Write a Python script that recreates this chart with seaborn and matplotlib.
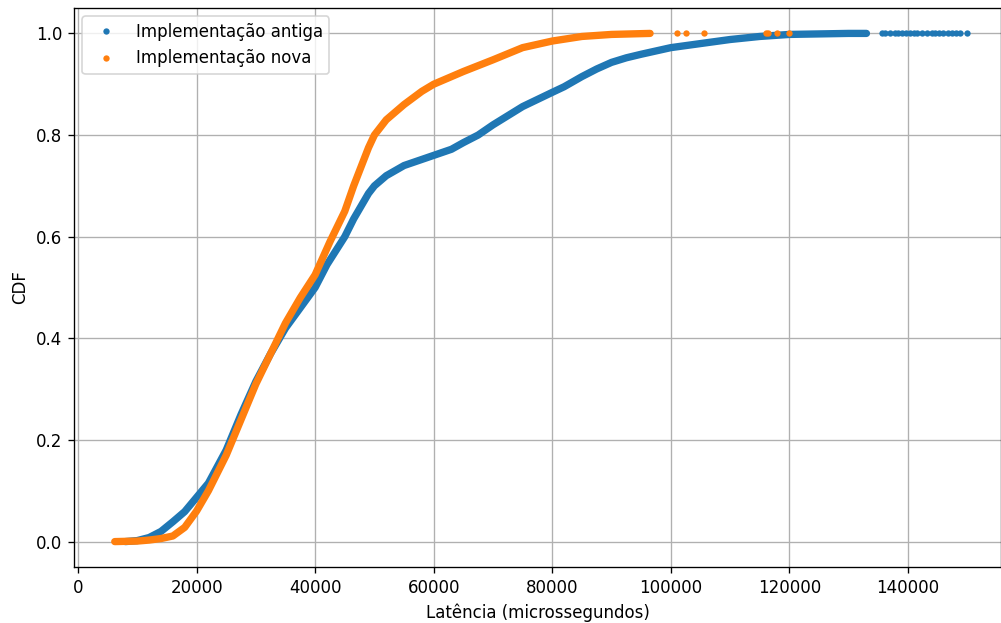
import matplotlib
matplotlib.use('Agg')
import matplotlib.pyplot as plt
import seaborn as sns

# CDF of latency
antiga_x = [8000, 10000, 12000, 14000, 16000, 18000, 20000, 22000, 25000, 27500, 30000,
            32500, 35000, 37500, 40000, 42000, 45000, 46500, 48000, 49000, 50000, 51000,
            52000, 53500, 55000, 57500, 60000, 63000, 65000, 67500, 70000, 72500, 75000,
            77500, 80000, 82000, 85000, 87500, 90000, 92500, 95000, 100000, 105000,
            110000, 115000, 120000, 125000, 130000, 133000]
antiga_y = [0.0, 0.002, 0.008, 0.02, 0.039, 0.059, 0.087, 0.115, 0.18, 0.25, 0.315,
            0.37, 0.42, 0.46, 0.50, 0.545, 0.60, 0.635, 0.665, 0.685, 0.70, 0.71,
            0.72, 0.73, 0.74, 0.75, 0.76, 0.772, 0.785, 0.80, 0.82, 0.838, 0.856,
            0.87, 0.884, 0.895, 0.915, 0.93, 0.943, 0.952, 0.959, 0.972, 0.98,
            0.988, 0.994, 0.998, 0.999, 1.0, 1.0]
antiga_tail_x = [135600, 136200, 137000, 137800, 138400, 139000, 139600, 140300, 141000,
                 141600, 142300, 143200, 144000, 144600, 145300, 146000, 146700,
                 147400, 148100, 148800, 150000]
antiga_tail_y = [1.0] * len(antiga_tail_x)

nova_x = [6200, 8000, 10000, 12000, 14000, 16000, 18000, 20000, 22000, 25000, 27500,
          30000, 32500, 35000, 37500, 40000, 42500, 45000, 46500, 48000, 49000, 50000,
          51000, 52000, 53500, 55000, 58000, 60000, 65000, 70000, 75000, 80000, 85000,
          90000, 96500]
nova_y = [0.0, 0.0005, 0.001, 0.003, 0.006, 0.011, 0.028, 0.06, 0.10, 0.17, 0.24,
          0.31, 0.37, 0.43, 0.48, 0.525, 0.59, 0.65, 0.70, 0.745, 0.775, 0.80,
          0.815, 0.83, 0.845, 0.86, 0.886, 0.90, 0.925, 0.948, 0.972, 0.985, 0.994,
          0.998, 1.0]
nova_tail_x = [101000, 102600, 105600, 116000, 116400, 117900, 119900]
nova_tail_y = [1.0] * len(nova_tail_x)

labels = ['Implementação antiga', 'Implementação nova']
colors = ['#1f77b4', '#ff7f0e']

sns.set_style('ticks', {'text.color': 'black', 'axes.labelcolor': 'black',
                        'xtick.color': 'black', 'ytick.color': 'black',
                        'axes.edgecolor': 'black'})
plt.rcParams['font.family'] = ['DejaVu Sans']

fig = plt.figure(figsize=(1001 / 120, 623 / 120), dpi=120)
ax = fig.add_axes([74 / 1001, 56 / 623, 927 / 1001, 559 / 623])

series = [(antiga_x, antiga_y, antiga_tail_x, antiga_tail_y),
          (nova_x, nova_y, nova_tail_x, nova_tail_y)]
for (x, y, tx, ty), label, color in zip(series, labels, colors):
    sns.lineplot(x=x, y=y, ax=ax, color=color, linewidth=4.4,
                 solid_capstyle='round', solid_joinstyle='round', legend=False)
    ax.plot(tx, ty, linestyle='none', marker='o', markersize=3.8,
            markeredgewidth=0, color=color, label=label)

ax.set_xlim(-675, 155700)
ax.set_ylim(-0.05, 1.05)
ax.set_xticks([0, 20000, 40000, 60000, 80000, 100000, 120000, 140000])
ax.set_yticks([0.0, 0.2, 0.4, 0.6, 0.8, 1.0])
ax.set_xlabel('Latência (microssegundos)', color='black')
ax.set_ylabel('CDF', color='black')
ax.tick_params(colors='black', labelcolor='black')
ax.grid(True, color='#b0b0b0', linewidth=0.8)
ax.set_axisbelow(True)
for side in ['top', 'right', 'left', 'bottom']:
    ax.spines[side].set_visible(True)
    ax.spines[side].set_color('black')
    ax.spines[side].set_linewidth(0.8)
leg = ax.legend(loc='upper left')
for t in leg.get_texts():
    t.set_color('black')

fig.savefig('out.png', dpi=120)
